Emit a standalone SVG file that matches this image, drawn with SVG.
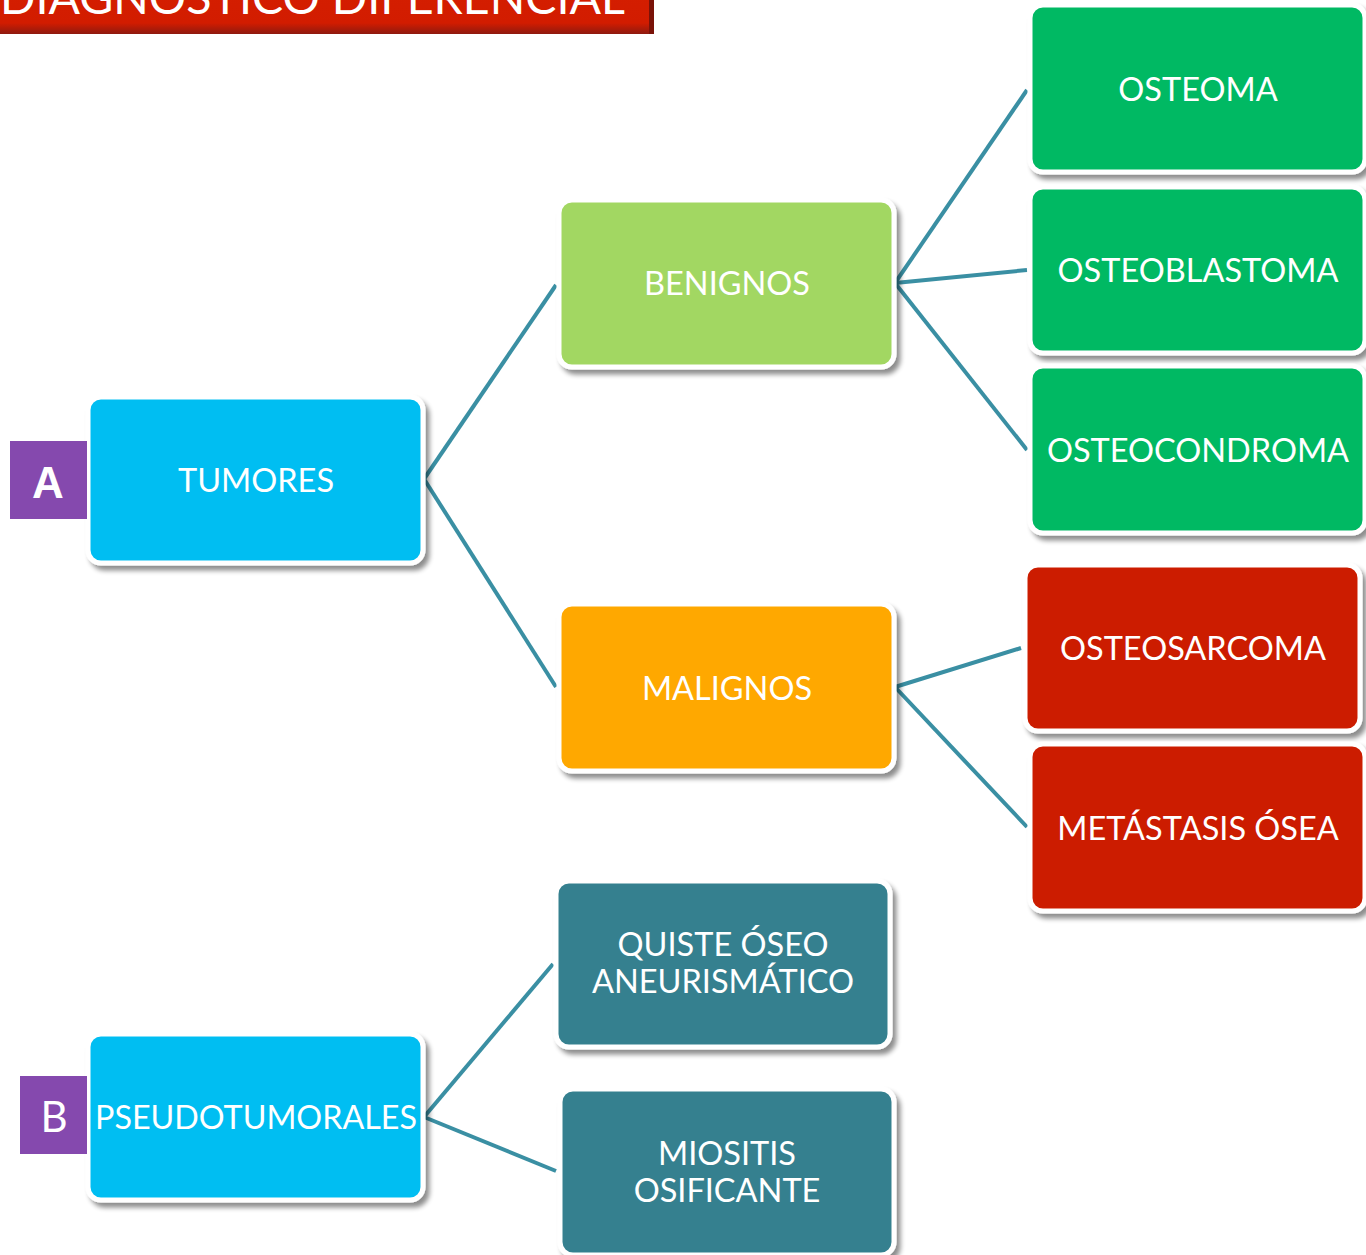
<svg xmlns="http://www.w3.org/2000/svg" width="1366" height="1255" viewBox="0 0 1366 1255">
<style>
.box{stroke:#ffffff;stroke-width:5;filter:url(#sh)}
.t{font-family:Lato,"Open Sans","Liberation Sans",sans-serif;font-size:32.5px;fill:#ffffff;text-anchor:middle}
.conn{stroke:#3A8FA3;stroke-width:4;fill:none}
.lab{fill:#8549AE}
</style>
<defs>
<filter id="sh" x="-10%" y="-10%" width="125%" height="130%">
<feGaussianBlur in="SourceAlpha" stdDeviation="2.5"/>
<feOffset dx="4" dy="5" result="o"/>
<feComponentTransfer><feFuncA type="linear" slope="0.45"/></feComponentTransfer>
<feMerge><feMergeNode/><feMergeNode in="SourceGraphic"/></feMerge>
</filter>
<linearGradient id="tg" x1="0" y1="0" x2="0" y2="1">
<stop offset="0" stop-color="#D41E00"/>
<stop offset="0.75" stop-color="#D21C00"/>
<stop offset="1" stop-color="#8E1A10"/>
</linearGradient>
</defs>
<rect width="1366" height="1255" fill="#ffffff"/>
<g id="title">
<rect x="0" y="-10" width="654" height="44" fill="url(#tg)"/>
<rect x="649" y="-10" width="5" height="44" fill="#7a1208"/>
<text x="0" y="14" font-family="Lato,'Open Sans','Liberation Sans',sans-serif" font-size="46" fill="#ffffff" textLength="625" lengthAdjust="spacingAndGlyphs">DIAGNOSTICO DIFERENCIAL</text>
</g>
<g id="connectors">
<line class="conn" x1="424" y1="479" x2="556" y2="285"/>
<line class="conn" x1="424" y1="479" x2="556" y2="687"/>
<line class="conn" x1="895" y1="283" x2="1027" y2="90"/>
<line class="conn" x1="895" y1="283" x2="1027" y2="270"/>
<line class="conn" x1="895" y1="283" x2="1027" y2="450"/>
<line class="conn" x1="895" y1="687" x2="1021" y2="648"/>
<line class="conn" x1="895" y1="687" x2="1027" y2="827"/>
<line class="conn" x1="424" y1="1117" x2="553" y2="964"/>
<line class="conn" x1="424" y1="1117" x2="556" y2="1171"/>
</g>
<g id="node-tumores">
<rect class="box" x="88" y="397" width="335" height="166" rx="13" fill="#02BEF2"/>
<text class="t" x="256" y="492">TUMORES</text>
</g>
<g id="label-a">
<rect class="lab" x="10" y="441" width="77" height="78"/>
<text x="48" y="498" font-family="'Liberation Sans',Arial,sans-serif" font-weight="bold" font-size="44" fill="#ffffff" text-anchor="middle">A</text>
</g>
<g id="node-benignos">
<rect class="box" x="559" y="200" width="335" height="167" rx="13" fill="#A2D762"/>
<text class="t" x="727" y="295">BENIGNOS</text>
</g>
<g id="node-malignos">
<rect class="box" x="559" y="604" width="335" height="167" rx="13" fill="#FFA800"/>
<text class="t" x="727" y="700">MALIGNOS</text>
</g>
<g id="node-osteoma">
<rect class="box" x="1030" y="5" width="335" height="167" rx="13" fill="#00B964"/>
<text class="t" x="1198" y="101">OSTEOMA</text>
</g>
<g id="node-osteoblastoma">
<rect class="box" x="1030" y="187" width="335" height="166" rx="13" fill="#00B964"/>
<text class="t" x="1198" y="282">OSTEOBLASTOMA</text>
</g>
<g id="node-osteocondroma">
<rect class="box" x="1030" y="366" width="335" height="167" rx="13" fill="#00B964"/>
<text class="t" x="1198" y="462">OSTEOCONDROMA</text>
</g>
<g id="node-osteosarcoma">
<rect class="box" x="1025" y="565" width="335" height="166" rx="13" fill="#CC1E00"/>
<text class="t" x="1193" y="660">OSTEOSARCOMA</text>
</g>
<g id="node-metastasis">
<rect class="box" x="1030" y="744" width="335" height="167" rx="13" fill="#CC1E00"/>
<text class="t" x="1198" y="840">METÁSTASIS ÓSEA</text>
</g>
<g id="node-pseudotumorales">
<rect class="box" x="88" y="1034" width="335" height="166" rx="13" fill="#02BEF2"/>
<text class="t" x="256" y="1129" textLength="322" lengthAdjust="spacingAndGlyphs">PSEUDOTUMORALES</text>
</g>
<g id="label-b">
<rect class="lab" x="20" y="1076" width="67" height="78"/>
<text x="54" y="1132" font-family="Lato,'Open Sans','Liberation Sans',sans-serif" font-size="42" fill="#ffffff" text-anchor="middle">B</text>
</g>
<g id="node-quiste">
<rect class="box" x="556" y="881" width="334" height="166" rx="13" fill="#35808F"/>
<text class="t" x="723" y="956">QUISTE ÓSEO</text>
<text class="t" x="723" y="993">ANEURISMÁTICO</text>
</g>
<g id="node-miositis">
<rect class="box" x="560" y="1089" width="334" height="166" rx="13" fill="#35808F"/>
<text class="t" x="727" y="1165">MIOSITIS</text>
<text class="t" x="727" y="1202">OSIFICANTE</text>
</g>
</svg>
